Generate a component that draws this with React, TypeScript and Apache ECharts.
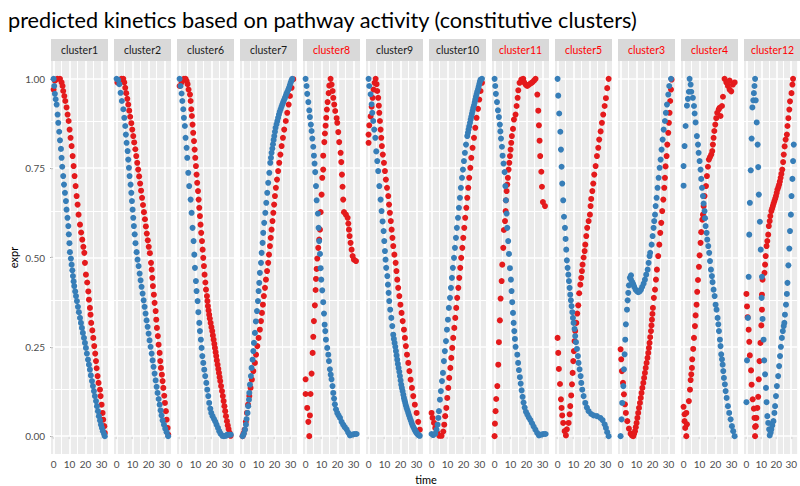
import React, { useEffect, useRef } from "react";
import * as echarts from "echarts";

type Pt = [number, number];

// facet order and which strip labels are highlighted
const panelNames = [
  "cluster1", "cluster2", "cluster6", "cluster7", "cluster8", "cluster9",
  "cluster10", "cluster11", "cluster5", "cluster3", "cluster4", "cluster12",
];
const highlightedPanels = ["cluster8", "cluster11", "cluster5", "cluster3", "cluster4", "cluster12"];

const timeTicks = [0, 10, 20, 30];
const timeMinorTicks = [5, 15, 25];
const exprTicks = [0, 0.25, 0.5, 0.75, 1];
const exprMinorTicks = [0.125, 0.375, 0.625, 0.875];

// [time, expr] per cluster, blue and red kinetics
const c1Blue: Pt[] = [[0,1.0],[0.4,0.98],[0.8,0.958],[1.3,0.943],[1.9,0.928],[2.5,0.9],[2.9,0.877],[3.5,0.852],[4.0,0.828],[4.6,0.804],[5.0,0.779],[5.4,0.754],[6.0,0.728],[6.5,0.704],[7.1,0.681],[7.7,0.658],[8.1,0.634],[8.7,0.611],[9.2,0.588],[9.5,0.565],[9.9,0.54],[10.2,0.515],[10.8,0.497],[11.25,0.48],[11.7,0.464],[12.1,0.448],[12.5,0.433],[12.9,0.42],[13.5,0.405],[14.0,0.392],[14.6,0.378],[15.2,0.362],[15.8,0.347],[16.5,0.331],[17.1,0.317],[17.7,0.303],[18.3,0.289],[19.0,0.275],[19.6,0.261],[20.2,0.247],[20.8,0.231],[21.5,0.214],[22.1,0.2],[22.7,0.186],[23.3,0.17],[24.0,0.154],[24.6,0.14],[25.2,0.126],[25.8,0.112],[26.5,0.098],[27.1,0.084],[27.7,0.07],[28.3,0.056],[29.0,0.044],[29.6,0.032],[30.2,0.023],[30.8,0.014],[31.5,0.006],[32.0,0.0]];
const c1Red: Pt[] = [[0,0.97],[0.8,0.995],[2.3,1.0],[4.0,1.0],[5.0,0.99],[5.6,0.98],[6.0,0.966],[6.7,0.952],[7.3,0.938],[8.1,0.92],[8.75,0.9],[9.4,0.882],[10.0,0.858],[10.6,0.835],[11.25,0.812],[11.9,0.784],[12.5,0.756],[13.1,0.728],[13.75,0.7],[14.4,0.672],[15.0,0.648],[15.6,0.62],[16.5,0.592],[17.2,0.57],[17.9,0.55],[18.6,0.53],[19.2,0.513],[19.6,0.485],[20.2,0.452],[21.0,0.43],[21.7,0.405],[22.1,0.382],[22.7,0.359],[23.1,0.34],[23.5,0.317],[24.2,0.296],[24.8,0.275],[25.4,0.252],[26.0,0.231],[26.5,0.21],[26.9,0.19],[27.5,0.168],[28.1,0.149],[29.0,0.13],[29.4,0.112],[30.0,0.088],[30.6,0.065],[31.0,0.046],[31.7,0.028],[32.0,0.009]];

const c2Blue: Pt[] = [[0,1.0],[1.0,0.997],[1.7,0.985],[2.5,0.961],[3.3,0.938],[4.2,0.915],[4.8,0.891],[5.4,0.868],[5.8,0.844],[6.25,0.821],[6.9,0.798],[7.3,0.774],[7.7,0.751],[8.1,0.728],[8.75,0.704],[9.2,0.681],[9.6,0.658],[10.0,0.634],[10.4,0.611],[10.8,0.588],[11.3,0.565],[11.8,0.54],[12.5,0.515],[13.1,0.494],[13.75,0.476],[14.4,0.455],[15.0,0.436],[15.6,0.418],[16.25,0.399],[16.9,0.38],[17.5,0.362],[18.1,0.343],[18.75,0.324],[19.4,0.306],[20.0,0.287],[20.6,0.268],[21.25,0.25],[21.9,0.231],[22.5,0.212],[23.1,0.194],[23.75,0.175],[24.4,0.156],[25.0,0.138],[25.6,0.121],[26.25,0.104],[26.9,0.088],[27.5,0.072],[28.1,0.058],[28.75,0.044],[29.6,0.032],[30.4,0.021],[31.25,0.011],[32.2,0.0]];
const c2Red: Pt[] = [[0.5,0.99],[1.5,0.995],[3.0,1.0],[4.2,1.0],[4.8,0.99],[5.4,0.975],[6.0,0.96],[6.7,0.944],[7.3,0.928],[7.9,0.911],[8.5,0.894],[9.2,0.876],[9.8,0.858],[10.4,0.84],[11.0,0.822],[11.7,0.803],[12.3,0.784],[12.9,0.765],[13.5,0.746],[14.1,0.727],[14.7,0.707],[15.3,0.687],[15.9,0.667],[16.5,0.647],[17.1,0.627],[17.7,0.607],[18.3,0.587],[18.9,0.567],[19.5,0.548],[20.1,0.53],[20.8,0.512],[21.5,0.485],[21.9,0.466],[22.3,0.443],[22.7,0.42],[23.3,0.396],[23.75,0.373],[24.4,0.35],[24.8,0.326],[25.2,0.303],[25.8,0.28],[26.25,0.256],[26.9,0.233],[27.3,0.21],[27.7,0.191],[28.3,0.172],[28.75,0.154],[29.2,0.135],[29.8,0.113],[30.2,0.093],[30.8,0.07],[31.25,0.046],[31.9,0.023],[32.3,0.004]];

const c6Blue: Pt[] = [[0,1.0],[0.6,0.98],[1.25,0.959],[1.7,0.938],[2.3,0.915],[2.7,0.891],[3.3,0.868],[3.75,0.835],[4.4,0.807],[4.8,0.779],[5.4,0.737],[6.0,0.7],[6.9,0.662],[7.5,0.625],[8.1,0.583],[8.75,0.546],[9.2,0.508],[9.6,0.471],[10.2,0.434],[10.6,0.406],[11.25,0.378],[11.7,0.347],[12.3,0.317],[12.7,0.294],[13.3,0.27],[13.75,0.247],[14.2,0.224],[14.8,0.205],[15.4,0.186],[16.0,0.168],[16.7,0.149],[17.3,0.13],[17.9,0.112],[18.5,0.093],[19.2,0.077],[19.8,0.065],[20.6,0.056],[21.5,0.048],[22.3,0.041],[23.1,0.032],[24.0,0.023],[24.8,0.014],[25.6,0.007],[26.7,0.001],[27.7,0.0],[28.75,0.001],[29.8,0.004],[31.0,0.004],[32.0,0.004]];
const c6Red: Pt[] = [[0,0.98],[1.25,0.99],[2.7,1.0],[3.75,1.0],[4.4,0.994],[5.0,0.985],[5.6,0.97],[6.5,0.956],[6.9,0.938],[7.3,0.915],[7.7,0.896],[8.1,0.872],[8.5,0.849],[9.0,0.826],[9.4,0.802],[9.8,0.779],[10.2,0.756],[10.6,0.732],[11.0,0.709],[11.5,0.686],[11.9,0.662],[12.3,0.639],[12.7,0.616],[13.1,0.592],[13.5,0.569],[14.0,0.546],[14.4,0.522],[14.8,0.499],[15.2,0.476],[15.6,0.452],[16.1,0.43],[16.5,0.41],[17.1,0.392],[17.4,0.378],[17.7,0.364],[18.1,0.352],[18.5,0.34],[18.9,0.329],[19.4,0.317],[19.9,0.305],[20.4,0.294],[20.8,0.282],[21.25,0.27],[21.7,0.258],[22.1,0.247],[22.5,0.235],[22.9,0.224],[23.3,0.212],[23.75,0.2],[24.2,0.188],[24.6,0.177],[25.0,0.165],[25.4,0.154],[25.9,0.14],[26.5,0.126],[27.0,0.112],[27.5,0.098],[28.0,0.084],[28.5,0.07],[29.0,0.056],[29.6,0.042],[30.1,0.03],[30.6,0.02],[31.2,0.01],[31.9,0.001]];

const c7Blue: Pt[] = [[0,0.0],[0.8,0.007],[1.5,0.018],[2.1,0.032],[2.5,0.048],[3.1,0.065],[3.5,0.084],[4.0,0.102],[4.2,0.121],[4.6,0.144],[5.2,0.168],[5.6,0.191],[6.25,0.214],[6.7,0.238],[7.1,0.261],[7.7,0.289],[8.3,0.321],[9.0,0.35],[9.6,0.378],[10.0,0.406],[10.4,0.429],[10.8,0.457],[11.5,0.485],[11.9,0.513],[12.5,0.541],[12.9,0.569],[13.5,0.597],[14.2,0.625],[14.8,0.653],[15.4,0.681],[16.0,0.709],[16.7,0.737],[17.3,0.765],[17.7,0.779],[18.1,0.793],[18.6,0.805],[19.0,0.817],[19.4,0.829],[19.8,0.84],[20.2,0.852],[20.6,0.863],[21.2,0.873],[21.7,0.882],[22.2,0.891],[22.7,0.9],[23.2,0.908],[23.75,0.915],[24.3,0.922],[24.8,0.928],[25.3,0.934],[25.8,0.94],[26.4,0.946],[26.9,0.952],[27.4,0.958],[27.9,0.963],[28.5,0.969],[29.0,0.975],[29.5,0.982],[30.0,0.989],[30.5,0.995],[31.0,1.0]];
const c7Red: Pt[] = [[0,0.0],[0.6,0.008],[1.25,0.018],[2.0,0.04],[2.7,0.065],[3.4,0.088],[4.2,0.112],[5.0,0.135],[5.8,0.158],[6.7,0.182],[7.7,0.205],[8.4,0.228],[9.2,0.252],[10.0,0.275],[10.8,0.298],[11.5,0.322],[12.1,0.345],[12.7,0.368],[13.3,0.392],[14.0,0.415],[14.6,0.438],[15.3,0.462],[16.0,0.485],[16.5,0.508],[17.1,0.532],[17.6,0.555],[18.1,0.578],[18.7,0.602],[19.2,0.625],[19.7,0.648],[20.2,0.672],[20.8,0.695],[21.5,0.718],[22.2,0.742],[22.9,0.765],[23.6,0.788],[24.4,0.812],[25.2,0.835],[26.0,0.858],[27.0,0.882],[27.9,0.905],[28.8,0.928],[29.6,0.952],[30.6,0.975],[31.7,0.999]];

const c8Blue: Pt[] = [[0,1.0],[0.6,0.98],[1.0,0.958],[1.7,0.935],[2.3,0.912],[2.7,0.893],[3.3,0.872],[3.75,0.854],[4.2,0.833],[4.8,0.81],[5.2,0.785],[5.6,0.763],[6.0,0.739],[6.5,0.7],[6.9,0.66],[7.7,0.623],[8.1,0.583],[8.5,0.546],[9.0,0.51],[9.4,0.47],[9.8,0.438],[10.4,0.408],[11.0,0.375],[11.5,0.343],[11.9,0.312],[12.3,0.294],[12.7,0.27],[13.5,0.247],[14.2,0.228],[14.6,0.21],[15.2,0.187],[15.7,0.172],[16.2,0.159],[16.8,0.14],[17.3,0.121],[17.8,0.105],[18.3,0.089],[19.0,0.075],[19.8,0.065],[20.6,0.058],[21.5,0.051],[22.5,0.04],[23.5,0.032],[24.5,0.025],[25.6,0.019],[26.6,0.01],[27.7,0.002],[28.7,0.004],[29.8,0.005],[30.8,0.006],[31.9,0.006]];
const c8Red: Pt[] = [[0,0.159],[0,0.118],[3.1,0.118],[1.0,0.079],[2.7,0.058],[1.7,0.04],[2.3,0.0],[3.75,0.175],[4.4,0.233],[4.8,0.278],[5.2,0.322],[5.8,0.366],[6.25,0.409],[6.5,0.44],[6.9,0.468],[7.3,0.497],[7.9,0.527],[8.5,0.55],[9.0,0.578],[9.4,0.627],[10.0,0.676],[10.4,0.723],[11.0,0.746],[11.0,0.785],[11.7,0.823],[12.1,0.847],[12.5,0.869],[12.9,0.891],[13.3,0.914],[13.75,0.935],[14.4,0.96],[14.8,0.981],[15.6,1.0],[16.25,0.984],[16.9,0.966],[17.3,0.947],[17.9,0.928],[18.5,0.91],[19.4,0.89],[19.8,0.877],[20.4,0.851],[21.0,0.823],[21.9,0.793],[22.3,0.767],[22.7,0.732],[23.1,0.698],[23.5,0.662],[24.0,0.627],[25.2,0.62],[26.25,0.611],[26.7,0.595],[27.1,0.578],[27.5,0.56],[28.1,0.541],[28.75,0.522],[29.4,0.504],[30.2,0.494],[31.5,0.49]];

const c9Blue: Pt[] = [[0,1.0],[0.4,0.98],[1.25,0.957],[1.9,0.929],[2.3,0.905],[2.9,0.882],[3.5,0.858],[4.2,0.835],[4.8,0.797],[5.4,0.77],[6.0,0.742],[6.7,0.7],[7.5,0.662],[8.1,0.63],[8.75,0.601],[9.4,0.574],[9.8,0.546],[10.2,0.518],[10.6,0.494],[11.0,0.471],[11.7,0.448],[12.1,0.424],[12.5,0.401],[12.9,0.378],[13.5,0.354],[14.2,0.331],[14.8,0.308],[15.4,0.284],[15.8,0.272],[16.25,0.261],[16.7,0.25],[17.1,0.238],[17.5,0.226],[17.9,0.214],[18.3,0.202],[18.75,0.191],[19.2,0.18],[19.6,0.168],[20.0,0.156],[20.4,0.144],[20.8,0.135],[21.25,0.126],[21.7,0.116],[22.1,0.107],[22.5,0.1],[22.9,0.093],[23.3,0.086],[23.75,0.079],[24.3,0.072],[24.8,0.065],[25.3,0.058],[25.8,0.051],[26.4,0.044],[26.9,0.037],[27.4,0.031],[27.9,0.026],[28.5,0.021],[29.0,0.016],[29.5,0.012],[30.0,0.009],[30.5,0.006],[31.0,0.004],[31.5,0.002],[32.0,0.001]];
const c9Red: Pt[] = [[0,0.821],[0,0.844],[0.4,0.87],[1.25,0.895],[1.9,0.922],[2.5,0.947],[3.1,0.97],[3.75,0.989],[4.4,1.0],[5.0,0.985],[5.4,0.966],[6.0,0.947],[6.4,0.925],[6.7,0.905],[7.1,0.882],[7.5,0.858],[7.9,0.835],[8.3,0.812],[8.9,0.788],[9.6,0.765],[10.2,0.742],[10.8,0.718],[11.5,0.695],[12.3,0.672],[12.8,0.648],[13.3,0.625],[13.9,0.602],[14.4,0.578],[14.9,0.555],[15.4,0.532],[16.1,0.508],[16.9,0.485],[17.4,0.462],[17.9,0.438],[18.5,0.415],[19.2,0.392],[19.9,0.368],[20.6,0.345],[21.3,0.322],[22.1,0.298],[22.7,0.275],[23.3,0.252],[24.0,0.228],[24.8,0.205],[25.5,0.182],[26.25,0.158],[27.1,0.135],[27.9,0.112],[28.9,0.088],[30.0,0.065],[31.0,0.04],[32.0,0.018]];

const c10Blue: Pt[] = [[0,0.006],[1.0,0.003],[2.3,0.007],[3.1,0.018],[3.75,0.032],[4.2,0.051],[4.6,0.07],[5.2,0.102],[5.8,0.126],[6.5,0.154],[7.1,0.177],[7.7,0.21],[8.3,0.238],[9.0,0.266],[9.6,0.298],[10.2,0.326],[10.8,0.359],[11.5,0.387],[12.1,0.415],[12.7,0.443],[13.3,0.471],[14.0,0.499],[14.6,0.527],[15.2,0.555],[15.8,0.583],[16.5,0.611],[17.1,0.639],[17.7,0.667],[18.3,0.695],[19.0,0.723],[19.6,0.746],[20.2,0.77],[20.8,0.793],[21.5,0.816],[22.3,0.84],[22.7,0.849],[23.1,0.858],[23.5,0.867],[24.0,0.877],[24.4,0.886],[24.8,0.894],[25.2,0.902],[25.6,0.91],[26.0,0.918],[26.5,0.926],[26.9,0.934],[27.3,0.942],[27.7,0.95],[28.1,0.957],[28.5,0.964],[29.0,0.971],[29.4,0.978],[29.8,0.985],[30.2,0.992],[30.6,0.998],[31.5,1.0]];
const c10Red: Pt[] = [[0,0.065],[0.6,0.051],[1.5,0.037],[2.3,0.023],[3.5,0.009],[4.8,0.001],[6.25,0.001],[7.3,0.013],[7.9,0.032],[8.5,0.056],[9.2,0.079],[9.8,0.107],[10.4,0.135],[11.0,0.163],[11.7,0.191],[12.3,0.219],[12.9,0.247],[13.5,0.275],[14.2,0.303],[14.8,0.331],[15.4,0.359],[16.0,0.387],[16.7,0.415],[17.3,0.443],[17.9,0.471],[18.5,0.499],[19.2,0.527],[19.8,0.555],[20.4,0.583],[21.0,0.611],[21.7,0.639],[22.3,0.667],[22.9,0.695],[23.5,0.723],[24.2,0.751],[24.8,0.779],[25.6,0.807],[26.5,0.835],[27.3,0.863],[28.1,0.891],[29.0,0.916],[29.8,0.942],[30.6,0.966],[31.5,0.989]];

const c11Blue: Pt[] = [[0,1.0],[0.4,0.98],[0.8,0.958],[1.5,0.935],[2.1,0.912],[2.7,0.893],[3.3,0.872],[3.6,0.853],[4.0,0.833],[4.6,0.81],[5.0,0.785],[5.6,0.763],[6.25,0.739],[6.7,0.7],[7.1,0.66],[7.5,0.623],[7.9,0.583],[8.5,0.546],[9.0,0.51],[9.6,0.47],[10.2,0.438],[10.6,0.406],[11.0,0.375],[11.5,0.345],[11.9,0.317],[12.3,0.294],[12.7,0.272],[13.1,0.25],[14.2,0.228],[14.7,0.205],[15.2,0.185],[15.8,0.165],[16.3,0.147],[16.9,0.128],[17.5,0.11],[18.1,0.094],[18.8,0.08],[19.6,0.068],[20.5,0.06],[21.4,0.052],[22.4,0.045],[23.4,0.036],[24.4,0.027],[25.5,0.018],[26.6,0.009],[27.7,0.002],[28.7,0.004],[29.8,0.005],[30.8,0.006],[31.9,0.006]];
const c11Red: Pt[] = [[0,0.0],[0.2,0.035],[0.6,0.07],[1.0,0.104],[1.7,0.14],[2.3,0.2],[2.7,0.263],[3.3,0.324],[3.75,0.385],[4.4,0.434],[4.8,0.48],[5.4,0.527],[5.8,0.577],[6.5,0.602],[6.9,0.63],[7.1,0.66],[7.5,0.686],[7.9,0.704],[8.3,0.723],[8.75,0.746],[9.2,0.765],[9.6,0.784],[10.0,0.802],[10.4,0.821],[10.8,0.84],[11.5,0.86],[12.1,0.886],[13.1,0.9],[13.75,0.924],[14.4,0.947],[14.8,0.968],[15.6,0.989],[16.7,0.998],[17.9,1.0],[18.5,0.99],[19.4,0.984],[20.4,0.98],[21.5,0.984],[22.5,0.987],[23.5,0.99],[24.6,0.995],[25.6,1.0],[26.7,0.956],[27.3,0.911],[27.7,0.87],[28.1,0.827],[28.5,0.784],[29.2,0.74],[29.6,0.698],[30.2,0.655],[31.5,0.644]];

const c5Blue: Pt[] = [[0,1.0],[0.4,0.953],[1.0,0.903],[1.7,0.852],[2.1,0.802],[2.5,0.754],[2.9,0.707],[3.5,0.66],[4.0,0.614],[4.6,0.583],[5.0,0.552],[5.4,0.522],[5.8,0.492],[6.25,0.471],[6.7,0.452],[7.1,0.434],[7.5,0.415],[7.9,0.396],[8.3,0.38],[8.75,0.364],[9.2,0.347],[9.6,0.331],[10.0,0.317],[10.6,0.3],[11.0,0.28],[11.5,0.263],[12.1,0.244],[12.7,0.224],[13.1,0.205],[13.75,0.187],[14.4,0.168],[14.8,0.149],[15.4,0.13],[16.25,0.112],[17.3,0.093],[18.3,0.08],[19.4,0.07],[21.0,0.062],[22.5,0.058],[24.6,0.056],[26.7,0.051],[28.1,0.045],[29.4,0.033],[30.2,0.023],[31.0,0.011],[31.9,0.0]];
const c5Red: Pt[] = [[0,0.275],[0.4,0.233],[0.8,0.188],[1.5,0.146],[2.1,0.103],[2.5,0.079],[2.9,0.058],[3.5,0.037],[4.4,0.014],[5.2,0.002],[5.8,0.019],[6.9,0.037],[7.5,0.061],[7.9,0.084],[8.5,0.114],[9.0,0.145],[9.4,0.177],[9.8,0.21],[10.2,0.238],[10.6,0.266],[11.0,0.294],[11.7,0.317],[12.3,0.343],[12.9,0.366],[13.5,0.4],[14.2,0.424],[14.8,0.443],[15.2,0.462],[15.6,0.48],[16.25,0.5],[16.9,0.518],[17.3,0.536],[17.9,0.56],[18.5,0.583],[19.4,0.602],[20.2,0.62],[20.6,0.644],[21.0,0.664],[21.7,0.686],[22.3,0.707],[22.9,0.732],[23.75,0.756],[24.6,0.784],[25.4,0.807],[26.0,0.83],[26.9,0.853],[27.7,0.877],[28.5,0.9],[29.4,0.924],[30.2,0.946],[31.0,0.974],[31.9,1.0]];

const c3Blue: Pt[] = [[0,0.0],[0.6,0.047],[1.0,0.093],[1.7,0.14],[2.1,0.187],[2.5,0.229],[2.9,0.27],[3.3,0.313],[4.0,0.354],[4.4,0.38],[4.8,0.401],[5.2,0.422],[5.8,0.443],[6.5,0.45],[6.5,0.438],[7.3,0.431],[7.9,0.425],[8.5,0.418],[9.4,0.41],[10.2,0.406],[11.0,0.403],[11.9,0.405],[12.7,0.41],[13.5,0.418],[14.4,0.427],[15.2,0.438],[16.0,0.452],[16.9,0.466],[17.5,0.485],[18.1,0.504],[18.5,0.513],[19.4,0.536],[20.0,0.56],[20.6,0.583],[21.0,0.602],[21.5,0.62],[21.9,0.644],[22.5,0.667],[23.1,0.695],[23.75,0.723],[24.4,0.751],[25.0,0.774],[25.6,0.802],[26.25,0.83],[26.9,0.858],[27.7,0.882],[28.3,0.905],[29.0,0.928],[29.8,0.956],[30.4,0.98],[31.5,1.0]];
const c3Red: Pt[] = [[0,0.243],[0.4,0.215],[0.8,0.182],[1.5,0.149],[2.1,0.117],[2.7,0.089],[3.3,0.065],[4.2,0.042],[5.2,0.021],[6.25,0.007],[7.1,0.002],[7.9,0.0],[8.5,0.007],[9.0,0.014],[9.5,0.025],[10.0,0.037],[10.5,0.051],[11.0,0.065],[11.5,0.079],[12.1,0.093],[12.6,0.107],[13.1,0.121],[13.6,0.135],[14.2,0.149],[14.7,0.163],[15.2,0.177],[15.7,0.191],[16.25,0.205],[16.8,0.219],[17.3,0.233],[17.7,0.247],[18.1,0.261],[18.5,0.277],[19.0,0.294],[19.3,0.31],[19.6,0.326],[19.9,0.342],[20.2,0.359],[20.8,0.387],[21.5,0.41],[22.1,0.438],[22.7,0.466],[23.5,0.504],[24.2,0.536],[24.8,0.569],[25.4,0.597],[26.0,0.63],[26.7,0.662],[27.3,0.695],[27.7,0.723],[28.1,0.755],[28.75,0.784],[29.2,0.816],[29.8,0.849],[30.2,0.877],[30.6,0.905],[31.0,0.938],[31.5,0.97],[31.9,0.998]];

const c4Blue: Pt[] = [[3.75,1.0],[4.4,0.984],[3.3,0.964],[4.8,0.964],[2.7,0.944],[5.8,0.947],[2.1,0.925],[6.5,0.924],[1.25,0.868],[6.9,0.903],[7.5,0.878],[0.6,0.812],[8.3,0.84],[0,0.756],[9.0,0.816],[0,0.701],[9.4,0.793],[10.0,0.77],[10.6,0.746],[11.0,0.72],[11.5,0.695],[12.1,0.672],[12.5,0.651],[13.1,0.63],[13.4,0.61],[13.75,0.588],[14.4,0.569],[14.8,0.55],[15.4,0.532],[16.0,0.513],[16.5,0.49],[17.1,0.466],[17.7,0.448],[18.1,0.431],[18.75,0.41],[19.4,0.392],[20.0,0.368],[20.6,0.354],[21.25,0.331],[21.7,0.313],[22.1,0.294],[22.7,0.27],[23.1,0.252],[23.5,0.229],[24.0,0.215],[24.4,0.2],[24.8,0.182],[25.2,0.163],[25.8,0.145],[26.25,0.126],[26.9,0.107],[27.7,0.084],[28.5,0.065],[29.4,0.047],[30.2,0.028],[31.0,0.014],[31.9,0.0]];
const c4Red: Pt[] = [[0,0.082],[0.6,0.061],[1.7,0.065],[0.6,0.042],[2.1,0.033],[1.0,0.023],[1.7,0.0],[3.3,0.098],[4.0,0.13],[4.4,0.157],[4.8,0.173],[5.2,0.191],[5.4,0.215],[6.0,0.244],[6.5,0.275],[7.1,0.308],[7.5,0.338],[8.1,0.368],[8.5,0.404],[9.0,0.437],[9.6,0.474],[10.0,0.506],[10.6,0.541],[11.0,0.571],[11.7,0.606],[12.1,0.62],[12.5,0.644],[13.1,0.672],[14.0,0.7],[14.6,0.728],[15.2,0.754],[15.8,0.774],[16.5,0.781],[17.3,0.788],[17.9,0.798],[18.3,0.816],[18.75,0.835],[19.2,0.854],[19.8,0.872],[20.4,0.89],[21.0,0.905],[21.9,0.914],[22.5,0.919],[23.1,0.896],[24.0,0.924],[24.6,0.95],[25.6,1.0],[26.7,0.99],[27.7,0.98],[28.75,0.97],[29.8,0.965],[30.8,0.984],[31.9,0.99],[28.75,0.995],[27.2,0.99]];

const c12Blue: Pt[] = [[5.8,1.0],[5.4,0.98],[5.0,0.96],[4.6,0.94],[6.25,0.94],[4.0,0.92],[6.9,0.878],[3.5,0.833],[7.5,0.816],[2.9,0.744],[7.9,0.753],[8.3,0.676],[2.3,0.653],[9.0,0.6],[1.9,0.564],[9.6,0.522],[1.5,0.446],[10.4,0.446],[10.2,0.387],[1.0,0.331],[10.8,0.328],[11.5,0.27],[0.4,0.212],[11.9,0.212],[12.5,0.173],[0,0.095],[13.1,0.135],[13.5,0.095],[14.0,0.056],[14.6,0.037],[15.2,0.019],[15.6,0.002],[16.25,0.01],[16.7,0.019],[17.3,0.03],[18.1,0.042],[18.75,0.065],[19.2,0.084],[19.8,0.112],[20.4,0.14],[21.25,0.168],[21.9,0.196],[22.5,0.224],[23.1,0.25],[23.75,0.275],[24.4,0.294],[25.0,0.308],[25.4,0.317],[25.8,0.34],[26.5,0.368],[27.1,0.398],[27.5,0.429],[28.1,0.478],[28.75,0.525],[29.2,0.574],[29.8,0.62],[30.2,0.672],[30.8,0.72],[31.25,0.77],[31.7,0.816]];
const c12Red: Pt[] = [[0,0.398],[10.8,0.438],[0.4,0.363],[10.4,0.396],[0.8,0.333],[10.4,0.354],[1.5,0.298],[10.0,0.31],[1.9,0.264],[9.4,0.261],[2.3,0.226],[8.75,0.21],[3.1,0.184],[8.3,0.159],[3.5,0.144],[7.9,0.11],[4.2,0.103],[7.3,0.079],[5.0,0.077],[6.7,0.051],[5.4,0.051],[6.25,0.028],[5.8,0.026],[5.8,0.0],[12.1,0.457],[12.5,0.48],[12.9,0.504],[13.5,0.532],[14.0,0.546],[14.6,0.564],[15.0,0.588],[15.6,0.602],[16.0,0.616],[16.7,0.63],[17.2,0.637],[17.7,0.644],[18.2,0.651],[18.75,0.658],[19.3,0.665],[19.8,0.672],[20.3,0.681],[20.8,0.69],[21.4,0.697],[21.9,0.704],[22.4,0.713],[22.9,0.723],[23.4,0.734],[24.0,0.746],[24.6,0.767],[25.0,0.788],[25.6,0.811],[26.25,0.83],[27.1,0.844],[27.5,0.868],[28.1,0.89],[28.75,0.914],[29.2,0.937],[30.2,0.96],[30.8,0.984],[31.25,1.0]];

const blueByPanel: Pt[][] = [c1Blue, c2Blue, c6Blue, c7Blue, c8Blue, c9Blue, c10Blue, c11Blue, c5Blue, c3Blue, c4Blue, c12Blue];
const redByPanel: Pt[][] = [c1Red, c2Red, c6Red, c7Red, c8Red, c9Red, c10Red, c11Red, c5Red, c3Red, c4Red, c12Red];

const FONT = "Lato, 'Open Sans', sans-serif";
const BLUE = "#377EB8";
const RED = "#E41A1C";

// facet geometry (pixels)
const LEFT0 = 51;
const PITCH = 63;
const PANEL_W = 57;
const PANEL_TOP = 61;
const PANEL_H = 393;
const STRIP_TOP = 39;
const STRIP_H = 22;

function buildOption(): echarts.EChartsOption {
  const grids = panelNames.map((_, i) => ({
    left: LEFT0 + PITCH * i,
    top: PANEL_TOP,
    width: PANEL_W,
    height: PANEL_H,
    show: true,
    backgroundColor: "#EBEBEB",
    borderWidth: 0,
  }));

  const xAxes = panelNames.map((_, i) => ({
    type: "value" as const,
    gridIndex: i,
    min: -1.62,
    max: 34,
    axisLine: { show: false },
    axisTick: { show: true, customValues: timeTicks, length: 3, lineStyle: { color: "#333333", width: 1.1 } },
    axisLabel: { customValues: timeTicks, color: "#4D4D4D", fontSize: 10, fontFamily: FONT, margin: 5 },
    splitLine: { show: false },
  }));

  const yAxes = panelNames.map((_, i) => ({
    type: "value" as const,
    gridIndex: i,
    min: -0.05,
    max: 1.05,
    axisLine: { show: false },
    axisTick: { show: i === 0, customValues: exprTicks, length: 3, lineStyle: { color: "#333333", width: 1.1 } },
    axisLabel: {
      show: i === 0,
      customValues: exprTicks,
      color: "#4D4D4D",
      fontSize: 10,
      fontFamily: FONT,
      margin: 6,
      formatter: (v: number) => v.toFixed(2),
    },
    splitLine: { show: false },
  }));

  const major = { color: "#FFFFFF", width: 1.7, type: "solid" as const, opacity: 1 };
  const minor = { color: "#FFFFFF", width: 1.0, type: "solid" as const, opacity: 1 };

  const gridLineSeries = panelNames.map((_, i) => ({
    type: "scatter" as const,
    xAxisIndex: i,
    yAxisIndex: i,
    data: [] as Pt[],
    silent: true,
    z: 1,
    markLine: {
      silent: true,
      z: 1,
      symbol: ["none", "none"],
      label: { show: false },
      emphasis: { disabled: true },
      data: [
        ...timeMinorTicks.map((v) => ({ xAxis: v, lineStyle: minor })),
        ...exprMinorTicks.map((v) => ({ yAxis: v, lineStyle: minor })),
        ...timeTicks.map((v) => ({ xAxis: v, lineStyle: major })),
        ...exprTicks.map((v) => ({ yAxis: v, lineStyle: major })),
      ],
    },
  }));

  const pointSeries = panelNames.flatMap((name, i) => [
    {
      type: "scatter" as const,
      name: `${name} red`,
      xAxisIndex: i,
      yAxisIndex: i,
      data: redByPanel[i],
      symbolSize: 6,
      itemStyle: { color: RED, opacity: 1 },
      silent: true,
      z: 3,
    },
    {
      type: "scatter" as const,
      name: `${name} blue`,
      xAxisIndex: i,
      yAxisIndex: i,
      data: blueByPanel[i],
      symbolSize: 6,
      itemStyle: { color: BLUE, opacity: 1 },
      silent: true,
      z: 3,
    },
  ]);

  const strips = panelNames.flatMap((name, i) => {
    const x = LEFT0 + PITCH * i;
    return [
      { type: "rect", shape: { x, y: STRIP_TOP, width: PANEL_W, height: STRIP_H }, style: { fill: "#D9D9D9" }, silent: true },
      {
        type: "text",
        x: x + PANEL_W / 2,
        y: STRIP_TOP + STRIP_H / 2,
        style: {
          text: name,
          fill: highlightedPanels.includes(name) ? "#FF0000" : "#1A1A1A",
          font: `10.5px ${FONT}`,
          align: "center",
          verticalAlign: "middle",
        },
        silent: true,
      },
    ];
  });

  const labels = [
    {
      type: "text",
      x: 8,
      y: 20,
      style: {
        text: "predicted kinetics based on pathway activity (constitutive clusters)",
        fill: "#000000",
        font: `21.7px ${FONT}`,
        align: "left",
        verticalAlign: "middle",
      },
    },
    {
      type: "text",
      x: LEFT0 + (PITCH * 11 + PANEL_W) / 2,
      y: 479,
      style: { text: "time", fill: "#000000", font: `11px ${FONT}`, align: "center", verticalAlign: "middle" },
    },
    {
      type: "text",
      x: 13,
      y: PANEL_TOP + PANEL_H / 2,
      rotation: Math.PI / 2,
      style: { text: "expr", fill: "#000000", font: `11px ${FONT}`, align: "center", verticalAlign: "middle" },
    },
  ];

  return {
    animation: false,
    backgroundColor: "#FFFFFF",
    grid: grids,
    xAxis: xAxes,
    yAxis: yAxes,
    series: [...gridLineSeries, ...pointSeries] as any,
    graphic: [...strips, ...labels] as any,
  };
}

export default function App() {
  const ref = useRef<HTMLDivElement>(null);
  useEffect(() => {
    if (!ref.current) return;
    const chart = echarts.init(ref.current, null, { renderer: "svg" });
    chart.setOption(buildOption());
    return () => chart.dispose();
  }, []);
  return <div ref={ref} style={{ position: "fixed", left: 0, top: 0, width: 800, height: 486 }} />;
}
